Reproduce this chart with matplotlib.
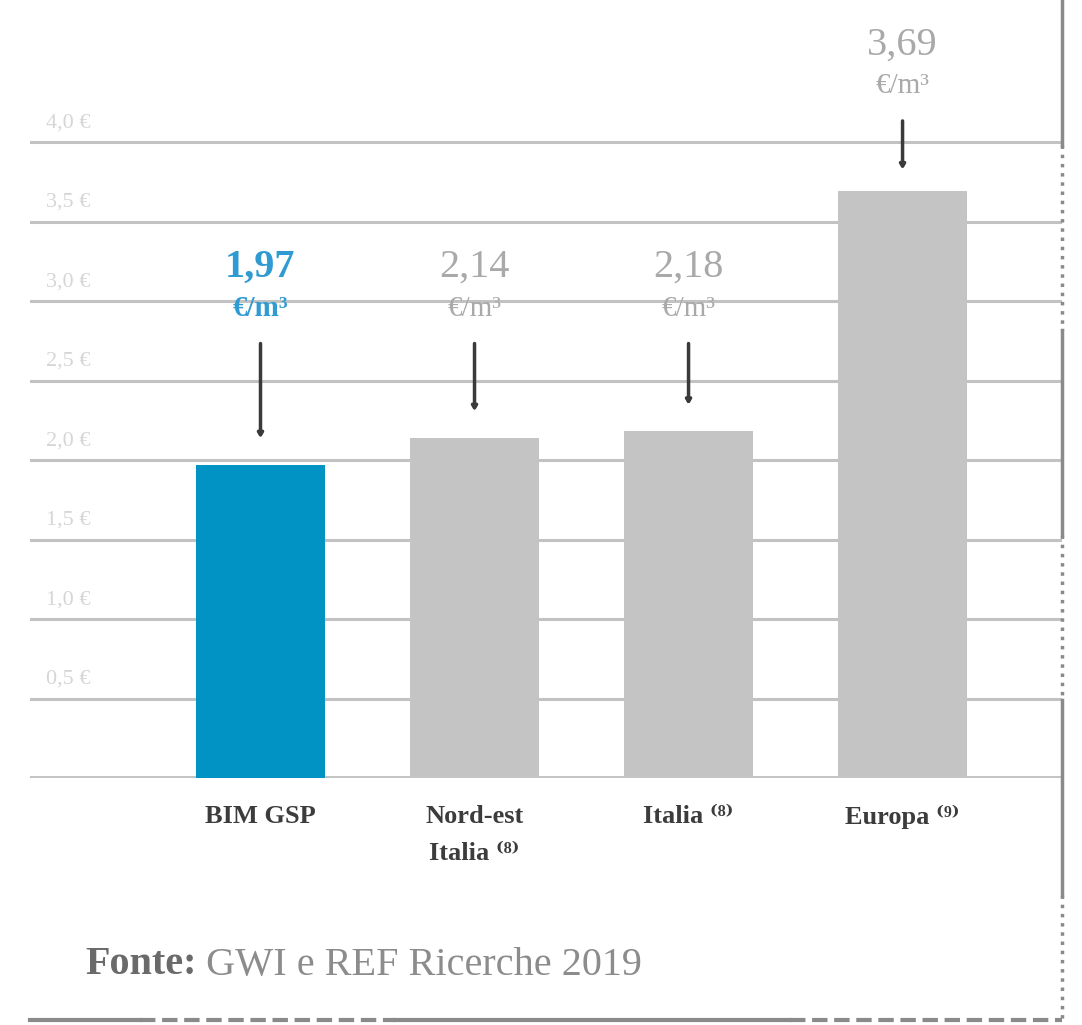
import numpy as np
import matplotlib.pyplot as plt

# Costo medio dell'acqua (euro per metro cubo)
categories = ["BIM GSP", "Nord-est\nItalia \u207d\u2078\u207e", "Italia \u207d\u2078\u207e", "Europa \u207d\u2079\u207e"]
values = [1.97, 2.14, 2.18, 3.69]
value_labels = ["1,97", "2,14", "2,18", "3,69"]
tick_values = [0.5, 1.0, 1.5, 2.0, 2.5, 3.0, 3.5, 4.0]
tick_labels = ["0,5 \u20ac", "1,0 \u20ac", "1,5 \u20ac", "2,0 \u20ac", "2,5 \u20ac", "3,0 \u20ac", "3,5 \u20ac", "4,0 \u20ac"]
source_bold = "Fonte:"
source_text = " GWI e REF Ricerche 2019"

blue = "#0093c4"
blue_text = "#2f9bd2"
bar_grey = "#c4c4c4"
grid_grey = "#c2c2c2"
text_grey = "#a9a9a9"
serif = ["Liberation Serif", "DejaVu Serif"]

W, H = 1082, 1025
fig = plt.figure(figsize=(W / 100, H / 100), dpi=100)

# axes placed in pixel terms: left 30, right 1062, baseline 778, top 0
ax = fig.add_axes([30 / W, 1 - 778 / H, (1062 - 30) / W, 778 / H])
ax.set_xlim(-1.077, 3.745)
ax.set_ylim(0, 778 / 159)
ax.axis("off")

# horizontal grid lines and baseline
for t, lab in zip(tick_values, tick_labels):
    ax.axhline(t, color=grid_grey, lw=2.2, zorder=1)
    ax.text(-1.0, t + 0.06, lab, fontsize=16, color="#d6d6d6", family=serif,
            va="bottom", ha="left")
ax.axhline(0, color=grid_grey, lw=2.8, zorder=1)

x = np.arange(len(values))
colors = [blue] + [bar_grey] * (len(values) - 1)
ax.bar(x, values, width=0.603, color=colors, zorder=2)

# value labels with pointers
for i, (v, lab) in enumerate(zip(values, value_labels)):
    col = blue_text if i == 0 else text_grey
    weight = "bold" if i == 0 else "normal"
    top = max(v + 0.92, 3.21)
    ax.text(i, top, lab, ha="center", va="center", fontsize=29, color=col,
            family=serif, weight=weight)
    ax.text(i, top - 0.26, "\u20ac/m\u00b3", ha="center", va="center", fontsize=21,
            color=col, family=serif, weight=weight)
    tip = min(v + 0.15, top - 0.8)
    ax.annotate("", xy=(i, tip), xytext=(i, top - 0.46),
                arrowprops=dict(arrowstyle="-|>,head_length=0.25,head_width=0.15",
                                color="#3a3a3a", lw=2.5))

# category labels
for i, c in enumerate(categories):
    ax.text(i, -0.17, c, ha="center", va="top", fontsize=19, weight="bold",
            color="#3c3c3c", family=serif, linespacing=1.75, clip_on=False)

# source line
t1 = fig.text(85 / W, 1 - 965 / H, source_bold, fontsize=29, weight="bold",
              color="#6a6a6a", family=serif, va="center", ha="left")
fig.canvas.draw()
bb = t1.get_window_extent()
fig.text(bb.x1 / W, 1 - 965 / H, source_text, fontsize=29, color="#8c8c8c",
         family=serif, va="center", ha="left")

# frame fragments: right border and bottom border, solid/dotted pieces
fx = 1062 / W
border = "#8a8a8a"
right_pieces = [(0, 145, "-"), (145, 330, ":"), (330, 535, "-"), (535, 700, ":"),
                (700, 895, "-"), (895, 1020, ":")]
for y0, y1, ls in right_pieces:
    fig.add_artist(plt.Line2D([fx, fx], [1 - y0 / H, 1 - y1 / H], color=border,
                              lw=2.5, ls=ls, transform=fig.transFigure))
fy = 1 - 1020 / H
bottom_pieces = [(30, 140, "-"), (140, 395, "--"), (395, 790, "-"), (790, 1062, "--")]
for x0, x1, ls in bottom_pieces:
    fig.add_artist(plt.Line2D([x0 / W, x1 / W], [fy, fy], color=border,
                              lw=3, ls=ls, transform=fig.transFigure))

fig.savefig("out.png", dpi=100)
